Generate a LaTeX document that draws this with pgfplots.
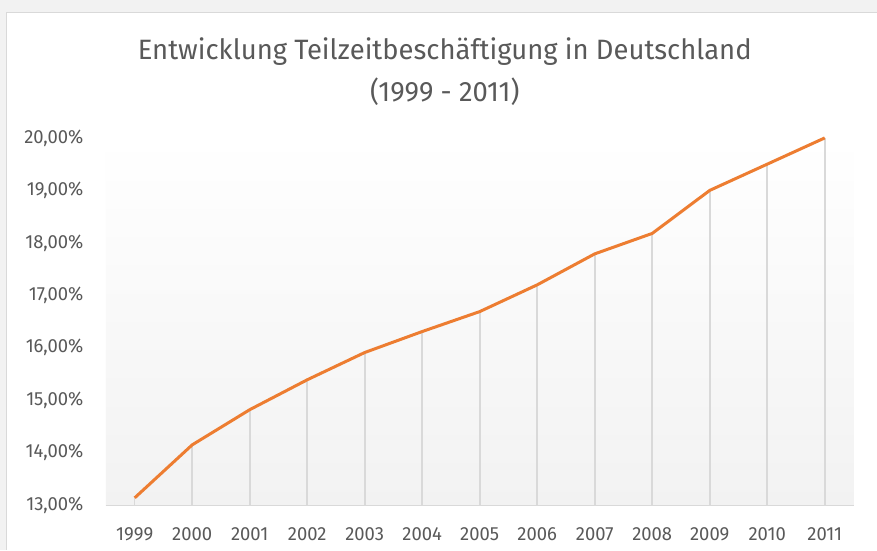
\documentclass[border=0pt]{standalone}
\usepackage{fontspec}
\setmainfont{Fira Sans}
\newfontfamily\titlefont{Fira Sans}[FakeStretch=0.98]
\newfontfamily\tickfont{Fira Sans}[FakeStretch=0.97]
\usepackage{pgfplots}
\usepackage{pgfplotstable}
\pgfplotsset{compat=1.18}
\definecolor{txtgray}{RGB}{89,89,89}
\definecolor{linegray}{RGB}{217,217,217}
\definecolor{bggray}{RGB}{242,242,242}
\definecolor{orangeline}{RGB}{237,125,49}
\pgfplotstableread{
x y
1999 13.14
2000 14.15
2001 14.82
2002 15.39
2003 15.91
2004 16.31
2005 16.69
2006 17.20
2007 17.79
2008 18.18
2009 19.00
2010 19.50
2011 20.00
}\datatable
\begin{document}
\begin{tikzpicture}[x=1bp,y=1bp]
\fill[bggray] (0,0) rectangle (877,550);
\fill[white] (7,0) rectangle (877,537);
\draw[linegray,line width=1bp] (7,0) -- (7,537) -- (877,537);
\node[txtgray,align=center,font=\titlefont\fontsize{28bp}{42bp}\selectfont] at (445,478) {Entwicklung Teilzeitbeschäftigung in Deutschland\\(1999 - 2011)};
\begin{axis}[
  at={(106bp,44.5bp)}, anchor=south west,
  scale only axis, width=748bp, height=367.5bp,
  xmin=1998.5, xmax=2011.5, ymin=13, ymax=20,
  xtick={1999,...,2011}, ytick={13,...,20},
  yticklabels={{13,00\%},{14,00\%},{15,00\%},{16,00\%},{17,00\%},{18,00\%},{19,00\%},{20,00\%}},
  xticklabels={1999,2000,2001,2002,2003,2004,2005,2006,2007,2008,2009,2010,2011},
  major tick length=0pt,
  axis x line*=bottom, axis y line*=left,
  separate axis lines,
  x axis line style={draw=linegray,line width=1.2bp,-},
  y axis line style={draw=none},
  ticklabel style={font=\tickfont\fontsize{19bp}{20bp}\selectfont, text=txtgray},
  yticklabel style={anchor=east,xshift=-19bp},
  xticklabel style={anchor=north,yshift=-19bp},
  axis background/.style={shade,top color=white,bottom color=bggray},
  clip=false,
]
\addplot[draw=none, mark=none, forget plot,
  error bars/.cd, y dir=minus, y explicit, error mark=none,
  error bar style={draw=linegray,line width=1.6bp}]
  table[x=x,y=y,y error minus expr=\thisrow{y}-13] {\datatable};
\addplot[orangeline, line width=3bp, mark=none, line join=round] table[x=x,y=y] {\datatable};
\end{axis}
\end{tikzpicture}
\end{document}
